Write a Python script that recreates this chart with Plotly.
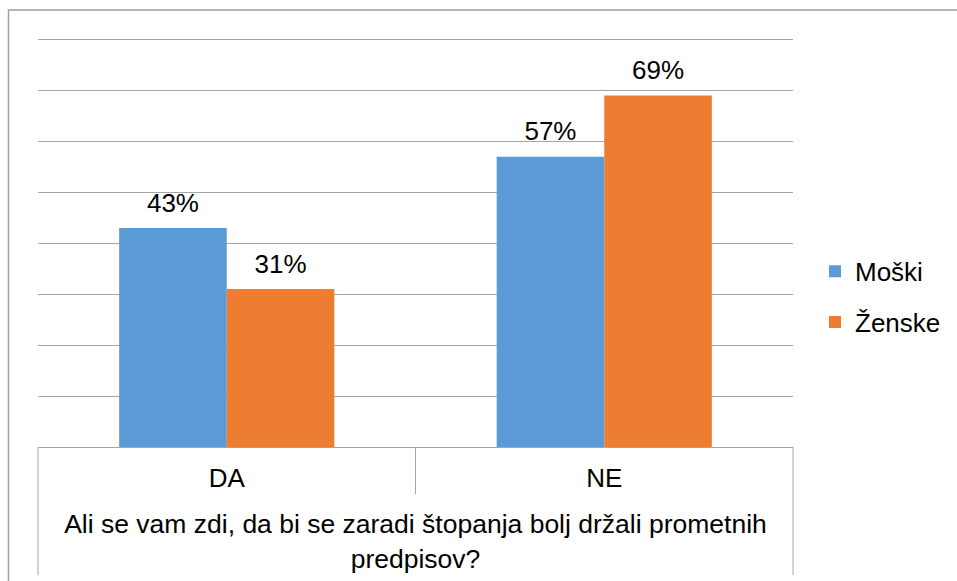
import plotly.graph_objects as go

categories = ["DA", "NE"]
series_names = ["Moški", "Ženske"]
moski = [43, 57]
zenske = [31, 69]
colors = ["#5B9BD5", "#ED7D31"]
axis_title = "Ali se vam zdi, da bi se zaradi štopanja bolj držali prometnih<br>predpisov?"
y_ticks = [0, 10, 20, 30, 40, 50, 60, 70, 80]

FONT = "Liberation Sans, Arial, sans-serif"
FS = 26
GRID = "#A6A6A6"
GAP = 0.43

W, H = 957, 581
plot_left, plot_right = 38, 793          # px
y0_px, y80_px = 447, 40                  # px of 0 and 80
ppu = (y0_px - y80_px) / 80.0
ytop = 80.5
top_px = y80_px - (ytop - 80) * ppu

L = plot_left
R = W - plot_right
T = top_px
B = H - y0_px
pw = W - L - R
ph = H - T - B

def px_x(p):
    return (p - L) / pw

def px_y(p):
    return (H - B - p) / ph

fig = go.Figure()
for i, (name, vals) in enumerate(zip(series_names, [moski, zenske])):
    fig.add_trace(go.Bar(
        x=categories, y=vals, name=name, offsetgroup=str(i),
        marker=dict(color=colors[i], line=dict(width=0)),
        legendgroup=name,
    ))
for i, (name, vals) in enumerate(zip(series_names, [moski, zenske])):
    fig.add_trace(go.Scatter(
        x=categories, y=vals, mode="markers+text", offsetgroup=str(i),
        text=[f"{v}%" for v in vals], textposition="top center",
        textfont=dict(size=FS, color="#000000", family=FONT),
        marker=dict(size=14, opacity=0), showlegend=False, hoverinfo="skip",
        cliponaxis=False,
    ))

line = dict(color=GRID, width=1)
shapes = [
    dict(type="rect", xref="paper", yref="paper", x0=px_x(8.5), x1=px_x(990),
         y0=px_y(10.5), y1=px_y(620), line=dict(color="#A0A0A0", width=1.5), layer="below"),
    dict(type="line", xref="paper", yref="paper", x0=0, x1=0, y0=0, y1=px_y(575), line=line),
    dict(type="line", xref="paper", yref="paper", x0=1, x1=1, y0=0, y1=px_y(575), line=line),
    dict(type="line", xref="paper", yref="paper", x0=0.5, x1=0.5, y0=0, y1=px_y(494), line=line),
]

fig.update_layout(
    width=W, height=H,
    margin=dict(l=L, r=R, t=T, b=B, autoexpand=False),
    paper_bgcolor="white", plot_bgcolor="white",
    font=dict(family=FONT, size=FS, color="#000000"),
    barmode="group", bargap=GAP, bargroupgap=0,
    scattermode="group", scattergap=GAP,
    showlegend=True,
    legend=dict(x=px_x(815), xanchor="left", y=px_y(297), yanchor="middle",
                traceorder="grouped", tracegroupgap=14,
                font=dict(size=FS, family=FONT), bgcolor="rgba(0,0,0,0)"),
    shapes=shapes,
    xaxis=dict(showline=True, linecolor=GRID, linewidth=1, ticks="", showgrid=False,
               tickfont=dict(size=FS), ticklabelstandoff=8,
               title=dict(text=axis_title, font=dict(size=26.5), standoff=22),
               automargin=False),
    yaxis=dict(range=[0, ytop], tickvals=y_ticks, showticklabels=False, showgrid=True,
               gridcolor=GRID, gridwidth=1, zeroline=False, showline=False,
               ticks="", automargin=False),
)

fig.write_html("out.html", config={"displayModeBar": False},
               post_script="document.body.style.margin='0px';document.body.style.overflow='hidden';")
